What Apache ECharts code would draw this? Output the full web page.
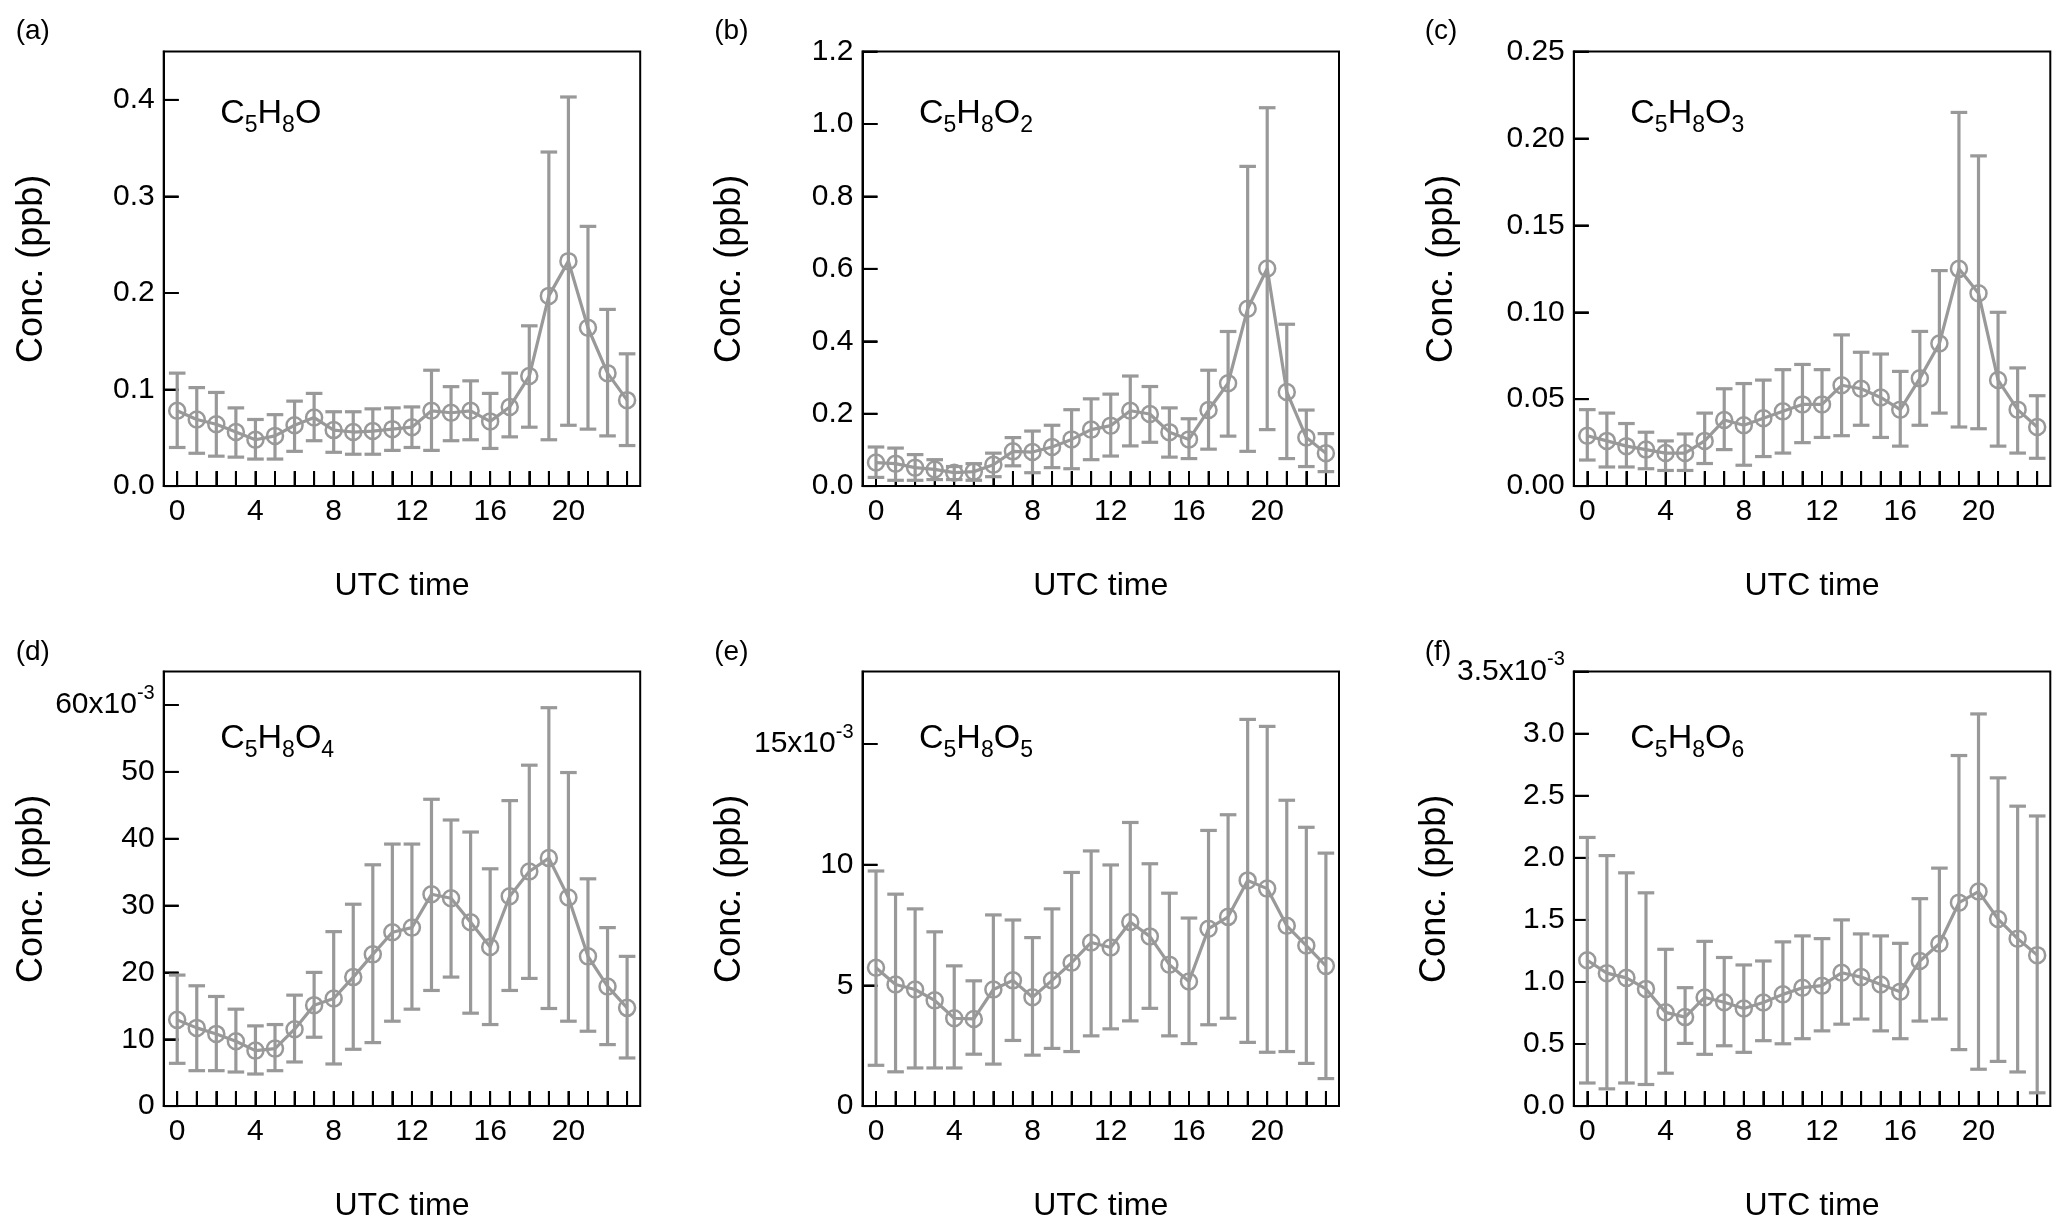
<!DOCTYPE html>
<html>
<head>
<meta charset="utf-8">
<script src="https://cdn.jsdelivr.net/npm/echarts@6/dist/echarts.min.js"></script>
<style>
html,body{margin:0;padding:0;background:#fff;}
#c{width:2067px;height:1229px;}
</style>
</head>
<body>
<div id="c"></div>
<script>
// ---------- data ----------
const hours = [0,1,2,3,4,5,6,7,8,9,10,11,12,13,14,15,16,17,18,19,20,21,22,23];
const xLabelTicks = [0,4,8,12,16,20];

// (a) C5H8O, ppb
const a_mean  = [0.078,0.069,0.064,0.056,0.048,0.052,0.063,0.071,0.058,0.056,0.057,0.059,0.061,0.078,0.076,0.078,0.067,0.082,0.114,0.197,0.233,0.164,0.117,0.089];
const a_upper = [0.117,0.102,0.097,0.081,0.069,0.074,0.088,0.096,0.077,0.077,0.080,0.081,0.082,0.120,0.103,0.109,0.096,0.117,0.166,0.346,0.403,0.269,0.183,0.137];
const a_lower = [0.040,0.034,0.031,0.030,0.028,0.028,0.036,0.047,0.035,0.033,0.033,0.037,0.040,0.037,0.047,0.048,0.039,0.051,0.061,0.048,0.063,0.059,0.052,0.042];
const a_ticks = [0,0.1,0.2,0.3,0.4];

// (b) C5H8O2, ppb
const b_mean  = [0.065,0.062,0.051,0.046,0.037,0.040,0.059,0.096,0.094,0.108,0.129,0.156,0.167,0.208,0.199,0.149,0.129,0.210,0.284,0.490,0.601,0.260,0.134,0.091];
const b_upper = [0.108,0.105,0.087,0.073,0.054,0.062,0.091,0.134,0.152,0.168,0.211,0.241,0.254,0.304,0.275,0.216,0.186,0.320,0.427,0.883,1.045,0.447,0.210,0.145];
const b_lower = [0.024,0.016,0.016,0.018,0.018,0.016,0.026,0.056,0.037,0.051,0.048,0.073,0.083,0.111,0.121,0.080,0.076,0.102,0.138,0.096,0.156,0.076,0.054,0.040];
const b_ticks = [0,0.2,0.4,0.6,0.8,1.0,1.2];

// (c) C5H8O3, ppb
const c_mean  = [0.029,0.026,0.023,0.021,0.019,0.019,0.026,0.038,0.035,0.039,0.043,0.047,0.047,0.058,0.056,0.051,0.044,0.062,0.082,0.125,0.111,0.061,0.044,0.034];
const c_upper = [0.044,0.042,0.036,0.031,0.026,0.030,0.042,0.056,0.059,0.061,0.067,0.070,0.067,0.087,0.077,0.076,0.066,0.089,0.124,0.215,0.190,0.100,0.068,0.052];
const c_lower = [0.015,0.011,0.011,0.010,0.009,0.009,0.013,0.021,0.012,0.017,0.019,0.025,0.028,0.029,0.035,0.028,0.023,0.035,0.042,0.034,0.033,0.023,0.019,0.016];
const c_ticks = [0,0.05,0.10,0.15,0.20,0.25];

// (d) C5H8O4, x10^-3 ppb
const d_mean  = [12.9,11.7,10.8,9.7,8.3,8.6,11.5,15.1,16.1,19.3,22.7,26.0,26.7,31.7,31.1,27.5,23.8,31.4,35.1,37.1,31.2,22.4,17.9,14.7];
const d_upper = [19.6,18.0,16.4,14.5,12.0,12.2,16.6,20.0,26.1,30.2,36.1,39.2,39.2,45.9,42.8,41.0,35.5,45.7,51.0,59.6,49.9,34.0,26.7,22.4];
const d_lower = [6.4,5.3,5.3,5.1,4.8,5.3,6.6,10.3,6.3,8.5,9.5,12.7,14.5,17.3,19.3,13.9,12.2,17.3,19.1,14.6,12.7,11.2,9.2,7.2];
const d_ticks = [0,10,20,30,40,50,60];

// (e) C5H8O5, x10^-3 ppb
const e_mean  = [5.73,5.04,4.83,4.38,3.64,3.61,4.83,5.21,4.51,5.21,5.94,6.78,6.57,7.63,7.03,5.86,5.16,7.35,7.84,9.35,9.01,7.47,6.65,5.81];
const e_upper = [9.74,8.78,8.17,7.22,5.81,5.19,7.92,7.71,6.98,8.17,9.68,10.57,9.99,11.75,10.04,8.82,7.79,11.42,12.07,16.02,15.73,12.67,11.55,10.48];
const e_lower = [1.69,1.42,1.58,1.58,1.58,2.15,1.74,2.72,2.11,2.39,2.26,2.91,3.20,3.53,4.05,2.91,2.59,3.37,3.64,2.64,2.23,2.26,1.77,1.14];
const e_ticks = [0,5,10,15];

// (f) C5H8O6, x10^-3 ppb
const f_mean  = [1.175,1.071,1.033,0.944,0.755,0.717,0.875,0.837,0.786,0.834,0.900,0.954,0.970,1.074,1.039,0.979,0.922,1.169,1.308,1.639,1.728,1.507,1.349,1.216];
const f_upper = [2.164,2.018,1.879,1.718,1.263,0.954,1.327,1.197,1.137,1.169,1.323,1.371,1.349,1.500,1.387,1.371,1.311,1.671,1.917,2.824,3.159,2.644,2.416,2.337];
const f_lower = [0.186,0.139,0.186,0.174,0.265,0.505,0.417,0.486,0.433,0.527,0.502,0.543,0.606,0.660,0.701,0.606,0.543,0.685,0.701,0.455,0.297,0.360,0.275,0.107];
const f_ticks = [0,0.5,1.0,1.5,2.0,2.5,3.0,3.5];

const panelLetters = ['(a)','(b)','(c)','(d)','(e)','(f)'];
const formulas = ['C{s|5}H{s|8}O','C{s|5}H{s|8}O{s|2}','C{s|5}H{s|8}O{s|3}','C{s|5}H{s|8}O{s|4}','C{s|5}H{s|8}O{s|5}','C{s|5}H{s|8}O{s|6}'];
const yMaxes = [0.45, 1.2, 0.25, 65, 18, 3.5];
const yDecimals = [1, 1, 2, 0, 0, 1];
const yScaled = [false, false, false, true, true, true]; // top label carries "x10^-3"
const means = [a_mean, b_mean, c_mean, d_mean, e_mean, f_mean];
const uppers = [a_upper, b_upper, c_upper, d_upper, e_upper, f_upper];
const lowers = [a_lower, b_lower, c_lower, d_lower, e_lower, f_lower];
const yTicks = [a_ticks, b_ticks, c_ticks, d_ticks, e_ticks, f_ticks];
const yAxisName = 'Conc. (ppb)';
const xAxisName = 'UTC time';

// ---------- layout / style ----------
const FONT = '"Liberation Sans", Arial, Helvetica, sans-serif';
const GREY = '#999999';
const X_MIN = -0.69, X_MAX = 23.67;
const TICK_LEN = 15;
const colLefts = [163.7, 862.5, 1573.8];
const rowTops = [51.6, 671.6];
const GW = 476.5, GH = 434.5;
const letterLefts = [15.7, 714.3, 1424.8];
const letterTops = [17, 638];
const formulaCenters = [114, 739];

const grids = [], xAxes = [], yAxes = [], series = [], graphics = [];
for (let i = 0; i < 6; i++) {
  const col = i % 3, row = Math.floor(i / 3);
  grids.push({left: colLefts[col], top: rowTops[row], width: GW, height: GH,
    show: true, borderColor: '#000', borderWidth: 2});
  xAxes.push({
    type: 'value', gridIndex: i, min: X_MIN, max: X_MAX,
    name: xAxisName, nameLocation: 'middle', nameGap: 84,
    nameTextStyle: {fontFamily: FONT, fontSize: 32, color: '#000'},
    axisLine: {show: true, onZero: false, lineStyle: {color: '#000', width: 2}},
    axisTick: {show: true, inside: true, length: TICK_LEN, customValues: hours.slice(), lineStyle: {color: '#000', width: 2}},
    axisLabel: {show: true, customValues: xLabelTicks.slice(), margin: 11, fontFamily: FONT, fontSize: 30, color: '#000'},
    splitLine: {show: false}
  });
  const top = yTicks[i][yTicks[i].length - 1];
  const dec = yDecimals[i];
  const scaled = yScaled[i];
  yAxes.push({
    type: 'value', gridIndex: i, min: 0, max: yMaxes[i],
    name: yAxisName, nameLocation: 'middle', nameGap: 114,
    nameTextStyle: {fontFamily: FONT, fontSize: 36, color: '#000'},
    axisLine: {show: true, onZero: false, lineStyle: {color: '#000', width: 2}},
    axisTick: {show: true, inside: true, length: TICK_LEN, customValues: yTicks[i].slice(), lineStyle: {color: '#000', width: 2}},
    axisLabel: {
      show: true, customValues: yTicks[i].slice(), margin: 9, fontFamily: FONT, fontSize: 30, color: '#000',
      lineHeight: 44,
      formatter: function (v) {
        const s = Number(v).toFixed(dec);
        if (scaled && Math.abs(v - top) < 1e-9) return s + 'x10{sup|-3}';
        return s;
      },
      rich: {sup: {fontFamily: FONT, fontSize: 20, lineHeight: 20, verticalAlign: 'top', color: '#000'}}
    },
    splitLine: {show: false}
  });
  // y-axis inward ticks (same data shape as the error bars: [x, v, v])
  series.push({
    type: 'custom', xAxisIndex: i, yAxisIndex: i, z: 2, silent: true,
    data: yTicks[i].map(v => [X_MIN, v, v]),
    renderItem: function (params, api) {
      const p = api.coord([api.value(0), api.value(1)]);
      return {type: 'group', children: [
        {type: 'line', shape: {x1: p[0], y1: p[1], x2: p[0] + TICK_LEN, y2: p[1]},
          style: {stroke: '#000', lineWidth: 2, fill: null}}
      ]};
    }
  });
  // error bars, plus the inward hour tick on the x axis at each hour
  const ebData = hours.map((h, k) => [h, lowers[i][k], uppers[i][k]]);
  series.push({
    type: 'custom', xAxisIndex: i, yAxisIndex: i, data: ebData, z: 2, silent: true,
    renderItem: function (params, api) {
      const x = api.value(0);
      const pLo = api.coord([x, api.value(1)]);
      const pHi = api.coord([x, api.value(2)]);
      const pBase = api.coord([x, 0]);
      const hw = 8.3;
      const st = {stroke: GREY, lineWidth: 3.2, fill: null};
      return {type: 'group', children: [
        {type: 'line', shape: {x1: pBase[0], y1: pBase[1], x2: pBase[0], y2: pBase[1] - TICK_LEN},
          style: {stroke: '#000', lineWidth: 2, fill: null}},
        {type: 'line', shape: {x1: pLo[0], y1: pLo[1], x2: pHi[0], y2: pHi[1]}, style: st},
        {type: 'line', shape: {x1: pHi[0] - hw, y1: pHi[1], x2: pHi[0] + hw, y2: pHi[1]}, style: st},
        {type: 'line', shape: {x1: pLo[0] - hw, y1: pLo[1], x2: pLo[0] + hw, y2: pLo[1]}, style: st}
      ]};
    }
  });
  // mean line with open circles
  series.push({
    type: 'line', xAxisIndex: i, yAxisIndex: i, z: 3, silent: true,
    data: hours.map((h, k) => [h, means[i][k]]),
    symbol: 'circle', symbolSize: 16, showSymbol: true,
    lineStyle: {color: GREY, width: 3.2},
    itemStyle: {color: 'rgba(255,255,255,0)', borderColor: GREY, borderWidth: 2.5},
    animation: false
  });
  graphics.push({type: 'text', left: letterLefts[col], top: letterTops[row], silent: true,
    style: {text: panelLetters[i], font: '28px ' + FONT, fill: '#000'}});
  graphics.push({type: 'text', x: colLefts[col] + 56.5, y: formulaCenters[row], silent: true,
    style: {text: formulas[i], fontFamily: FONT, fontSize: 34, lineHeight: 46, fill: '#000', verticalAlign: 'middle',
      rich: {s: {fontFamily: FONT, fontSize: 23, lineHeight: 23, verticalAlign: 'bottom', fill: '#000'}}}});
}

const chart = echarts.init(document.getElementById('c'));
chart.setOption({
  animation: false,
  grid: grids,
  xAxis: xAxes,
  yAxis: yAxes,
  series: series,
  graphic: graphics
});
</script>
</body>
</html>
